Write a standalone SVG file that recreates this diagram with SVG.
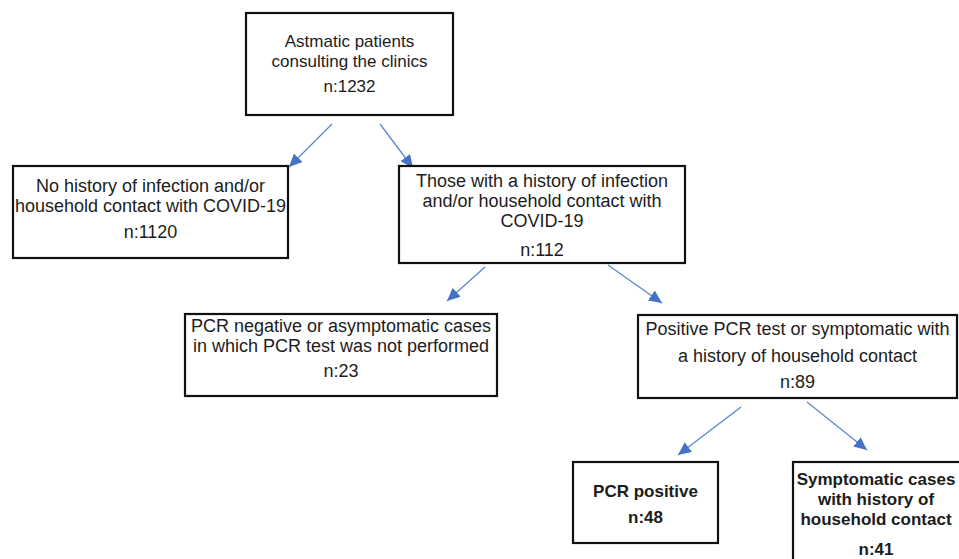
<svg xmlns="http://www.w3.org/2000/svg" width="959" height="559" viewBox="0 0 959 559">
  <style>
    .box { fill: #ffffff; stroke: #111111; stroke-width: 2.2; }
    .t { font-family: "Liberation Sans", Arial, sans-serif; font-size: 18px; fill: #1c1c1c; text-anchor: middle; }
    .t1 { font-size: 17px; }
    .b { font-weight: bold; font-size: 17px; }
    .conn { stroke: #5b86cf; stroke-width: 1.3; fill: none; }
  </style>
  <defs>
    <marker id="ah" markerUnits="userSpaceOnUse" markerWidth="14" markerHeight="12" refX="13" refY="6" orient="auto">
      <path d="M0,0 L13,6 L0,12 Z" fill="#4472c4"/>
    </marker>
  </defs>
  <rect width="959" height="559" fill="#ffffff"/>

  <g id="connectors">
    <line class="conn" x1="332" y1="124" x2="289" y2="167" marker-end="url(#ah)"/>
    <line class="conn" x1="380" y1="124" x2="413" y2="168" marker-end="url(#ah)"/>
    <line class="conn" x1="485" y1="267" x2="447" y2="301" marker-end="url(#ah)"/>
    <line class="conn" x1="608" y1="265" x2="662" y2="303" marker-end="url(#ah)"/>
    <line class="conn" x1="741" y1="407" x2="678" y2="455" marker-end="url(#ah)"/>
    <line class="conn" x1="807" y1="402" x2="867" y2="450" marker-end="url(#ah)"/>
  </g>

  <g id="node-asthmatic">
    <rect class="box" x="246" y="13" width="207" height="102"/>
    <text class="t t1" x="349.5" y="46.5">Astmatic patients</text>
    <text class="t t1" x="349.5" y="66.5">consulting the clinics</text>
    <text class="t t1" x="349.5" y="92">n:1232</text>
  </g>

  <g id="node-no-history">
    <rect class="box" x="13" y="166" width="275" height="92"/>
    <text class="t" x="150.5" y="192">No history of infection and/or</text>
    <text class="t" x="150.5" y="212">household contact with COVID-19</text>
    <text class="t" x="150.5" y="238">n:1120</text>
  </g>

  <g id="node-history">
    <rect class="box" x="399" y="166" width="286" height="97"/>
    <text class="t" x="542" y="187">Those with a history of infection</text>
    <text class="t" x="542" y="207">and/or household contact with</text>
    <text class="t" x="542" y="227">COVID-19</text>
    <text class="t" x="542" y="256">n:112</text>
  </g>

  <g id="node-pcr-negative">
    <rect class="box" x="185" y="314" width="312" height="82"/>
    <text class="t" x="341" y="332">PCR negative or asymptomatic cases</text>
    <text class="t" x="341" y="352">in which PCR test was not performed</text>
    <text class="t" x="341" y="377">n:23</text>
  </g>

  <g id="node-positive">
    <rect class="box" x="638" y="315" width="319" height="83"/>
    <text class="t" x="797.5" y="335">Positive PCR test or symptomatic with</text>
    <text class="t" x="797.5" y="362">a history of household contact</text>
    <text class="t" x="797.5" y="388">n:89</text>
  </g>

  <g id="node-pcr-positive">
    <rect class="box" x="573" y="462" width="145" height="81"/>
    <text class="t b" x="645.5" y="497">PCR positive</text>
    <text class="t b" x="645.5" y="523">n:48</text>
  </g>

  <g id="node-symptomatic">
    <rect class="box" x="793" y="462" width="170" height="110"/>
    <text class="t b" x="876" y="485">Symptomatic cases</text>
    <text class="t b" x="876" y="505">with history of</text>
    <text class="t b" x="876" y="525">household contact</text>
    <text class="t b" x="876" y="555">n:41</text>
  </g>
</svg>
